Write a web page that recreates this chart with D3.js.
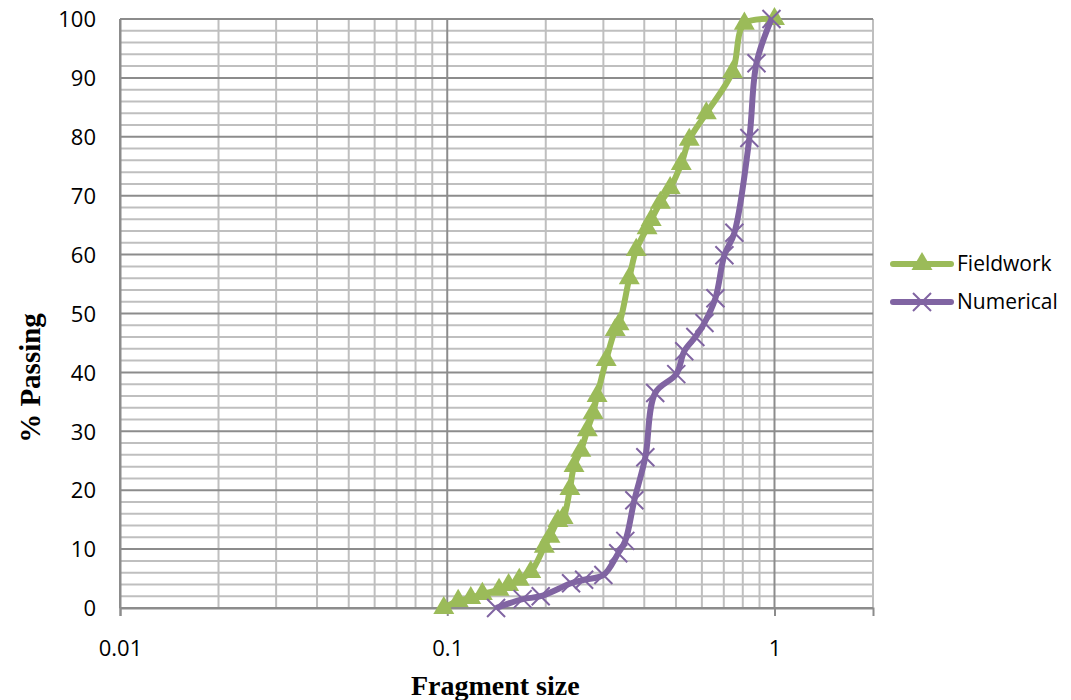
<!DOCTYPE html>
<html>
<head>
<meta charset="utf-8">
<script src="https://cdn.jsdelivr.net/npm/d3@7/dist/d3.min.js"></script>
<style>
  body { margin: 0; background: #fff; }
</style>
</head>
<body>
<div class="container"></div>
<script>
// fragment size (x) and % passing (y)
var fieldSize = [0.0976, 0.108, 0.118, 0.128, 0.144, 0.154, 0.166, 0.180, 0.198, 0.206, 0.218, 0.226,
    0.237, 0.244, 0.256, 0.268, 0.279, 0.287, 0.306, 0.326, 0.335, 0.360, 0.378, 0.408, 0.420,
    0.448, 0.480, 0.519, 0.549, 0.619, 0.744, 0.809, 1.0];
var fieldPassing = [0, 1.2, 1.7, 2.4, 3.1, 3.9, 4.8, 6.1, 10.4, 12.1, 14.8, 15.3,
    20.2, 24.1, 26.7, 30.2, 33.1, 36.0, 42.1, 47.2, 48.2, 56.0, 60.8, 64.5, 65.9,
    68.8, 71.3, 75.4, 79.5, 84.0, 91.0, 99.2, 100];
var numSize = [0.141, 0.170, 0.193, 0.239, 0.262, 0.300, 0.333, 0.350, 0.373, 0.403, 0.432,
    0.501, 0.530, 0.573, 0.611, 0.660, 0.703, 0.754, 0.838, 0.881, 0.979];
var numPassing = [0, 1.5, 2.0, 4.2, 4.8, 5.6, 9.3, 11.4, 18.3, 25.6, 36.5,
    39.7, 43.6, 46.0, 48.4, 52.6, 59.9, 63.7, 79.8, 92.5, 100];

var xTicks = [0.01, 0.1, 1];
var yTicks = [0, 10, 20, 30, 40, 50, 60, 70, 80, 90, 100];
var seriesNames = ["Fieldwork", "Numerical"];

var svgWidth = 1071;
var svgHeight = 700;
var chartMargin = { top: 19, left: 120, right: 198, bottom: 92 };
var chartWidth = svgWidth - chartMargin.left - chartMargin.right;
var chartHeight = svgHeight - chartMargin.top - chartMargin.bottom;

var green = "#9bbb59";
var purple = "#8064a2";
var labelFont = "'Open Sans', Lato, sans-serif";
var titleFont = "'Liberation Serif', 'Times New Roman', serif";

var svg = d3.select(".container")
    .append("svg")
    .attr("width", svgWidth)
    .attr("height", svgHeight);

var chartGroup = svg.append("g")
    .attr("transform", `translate(${chartMargin.left}, ${chartMargin.top})`);

var xLogScale = d3.scaleLog()
    .domain([0.01, 2])
    .range([0, chartWidth]);

var yLinearScale = d3.scaleLinear()
    .domain([0, 100])
    .range([chartHeight, 0]);

// minor grid
var minorX = [];
[0.01, 0.1, 1].forEach(d => {
    for (var k = 2; k <= 9; k++) {
        if (d * k <= 2) minorX.push(d * k);
    }
});
var minorY = d3.range(0, 101, 2).filter(v => v % 10 !== 0);

chartGroup.selectAll(".minor-x")
    .data(minorX)
    .enter()
    .append("line")
    .attr("x1", d => xLogScale(d))
    .attr("x2", d => xLogScale(d))
    .attr("y1", 0)
    .attr("y2", chartHeight)
    .attr("stroke", "#bfbfbf")
    .attr("stroke-width", 2);

chartGroup.selectAll(".minor-y")
    .data(minorY)
    .enter()
    .append("line")
    .attr("x1", 0)
    .attr("x2", chartWidth)
    .attr("y1", d => yLinearScale(d))
    .attr("y2", d => yLinearScale(d))
    .attr("stroke", "#bfbfbf")
    .attr("stroke-width", 2);

// major grid
chartGroup.selectAll(".major-x")
    .data(xTicks)
    .enter()
    .append("line")
    .attr("x1", d => xLogScale(d))
    .attr("x2", d => xLogScale(d))
    .attr("y1", 0)
    .attr("y2", chartHeight)
    .attr("stroke", "#8c8c8c")
    .attr("stroke-width", 2);

chartGroup.selectAll(".major-y")
    .data(yTicks)
    .enter()
    .append("line")
    .attr("x1", 0)
    .attr("x2", chartWidth)
    .attr("y1", d => yLinearScale(d))
    .attr("y2", d => yLinearScale(d))
    .attr("stroke", "#8c8c8c")
    .attr("stroke-width", 2);

// axes
var bottomAxis = d3.axisBottom(xLogScale)
    .tickValues(xTicks)
    .tickFormat(d3.format("~g"))
    .tickSize(8)
    .tickPadding(24);
var leftAxis = d3.axisLeft(yLinearScale)
    .tickValues(yTicks)
    .tickSize(0)
    .tickPadding(24);

var xAxisG = chartGroup.append("g")
    .attr("transform", `translate(0, ${chartHeight})`)
    .call(bottomAxis);
var yAxisG = chartGroup.append("g")
    .call(leftAxis);

[xAxisG, yAxisG].forEach(g => {
    g.select(".domain").attr("stroke", "#8c8c8c").attr("stroke-width", 2);
    g.selectAll(".tick line").attr("stroke", "#8c8c8c").attr("stroke-width", 2);
    g.selectAll(".tick text")
        .attr("font-family", labelFont)
        .attr("font-size", "22px")
        .attr("fill", "#000");
});
yAxisG.selectAll(".tick text").attr("dy", "0.35em");

// series
var curve = d3.curveCatmullRom.alpha(0.5);
var line = d3.line()
    .x(d => xLogScale(d[0]))
    .y(d => yLinearScale(d[1]))
    .curve(curve);

var fieldData = fieldSize.map((v, i) => [v, fieldPassing[i]]);
var numData = numSize.map((v, i) => [v, numPassing[i]]);

chartGroup.append("path")
    .datum(fieldData)
    .attr("d", line)
    .attr("fill", "none")
    .attr("stroke", green)
    .attr("stroke-width", 6)
    .attr("stroke-linejoin", "round");

var tri = d3.symbol().type(d3.symbolTriangle).size(190);
chartGroup.selectAll(".tri")
    .data(fieldData)
    .enter()
    .append("path")
    .attr("d", tri)
    .attr("transform", d => `translate(${xLogScale(d[0])}, ${yLinearScale(d[1])})`)
    .attr("fill", green);

chartGroup.append("path")
    .datum(numData)
    .attr("d", line)
    .attr("fill", "none")
    .attr("stroke", purple)
    .attr("stroke-width", 6)
    .attr("stroke-linejoin", "round");

var cross = "M-9,-9L9,9M-9,9L9,-9";
chartGroup.selectAll(".cross")
    .data(numData)
    .enter()
    .append("path")
    .attr("d", cross)
    .attr("transform", d => `translate(${xLogScale(d[0])}, ${yLinearScale(d[1])})`)
    .attr("stroke", purple)
    .attr("stroke-width", 2)
    .attr("fill", "none");

// legend
var legend = svg.append("g").attr("transform", "translate(893, 264)");
seriesNames.forEach((name, i) => {
    var g = legend.append("g").attr("transform", `translate(0, ${i * 38})`);
    var c = i === 0 ? green : purple;
    g.append("line")
        .attr("x1", 0).attr("x2", 58)
        .attr("stroke", c).attr("stroke-width", 6)
        .attr("stroke-linecap", "round");
    if (i === 0) {
        g.append("path").attr("d", tri).attr("transform", "translate(29,0)").attr("fill", c);
    } else {
        g.append("path").attr("d", cross).attr("transform", "translate(29,0)")
            .attr("stroke", c).attr("stroke-width", 2);
    }
    g.append("text")
        .attr("x", 64)
        .attr("dy", "0.35em")
        .attr("font-family", labelFont)
        .attr("font-size", "21px")
        .attr("fill", "#000")
        .text(name);
});

// axis titles
svg.append("text")
    .attr("x", chartMargin.left + xLogScale(0.1) + 48)
    .attr("y", 695)
    .attr("text-anchor", "middle")
    .attr("font-family", titleFont)
    .attr("font-weight", "bold")
    .attr("font-size", "28px")
    .text("Fragment size");

svg.append("text")
    .attr("transform", `translate(40, 378) rotate(-90)`)
    .attr("text-anchor", "middle")
    .attr("font-family", titleFont)
    .attr("font-weight", "bold")
    .attr("font-size", "29px")
    .text("% Passing");
</script>
</body>
</html>
